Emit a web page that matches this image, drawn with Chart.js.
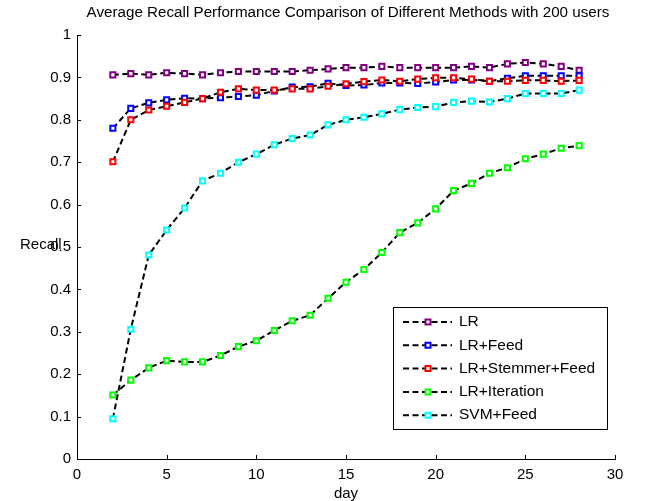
<!DOCTYPE html>
<html>
<head>
<meta charset="utf-8">
<script src="https://cdn.jsdelivr.net/npm/chart.js@4"></script>
<style>
  body { margin: 0; background: #fff; }
  #wrap { width: 662px; height: 501px; }
</style>
</head>
<body>
<div id="wrap"><canvas id="recallChart" width="662" height="501"></canvas></div>
<script>
  // data (day 2 .. 28)
  const days = [2, 3, 4, 5, 6, 7, 8, 9, 10, 11, 12, 13, 14, 15, 16, 17, 18, 19, 20, 21, 22, 23, 24, 25, 26, 27, 28];
  const lr = [0.906, 0.909, 0.906, 0.911, 0.909, 0.906, 0.911, 0.914, 0.914, 0.914, 0.914, 0.917, 0.920, 0.923, 0.923, 0.926, 0.923, 0.923, 0.923, 0.923, 0.926, 0.923, 0.932, 0.935, 0.932, 0.926, 0.917];
  const lrFeed = [0.780, 0.827, 0.840, 0.847, 0.851, 0.850, 0.852, 0.855, 0.858, 0.868, 0.877, 0.878, 0.886, 0.881, 0.882, 0.887, 0.887, 0.886, 0.889, 0.894, 0.894, 0.891, 0.898, 0.904, 0.904, 0.904, 0.904];
  const lrStemmerFeed = [0.701, 0.800, 0.823, 0.832, 0.841, 0.850, 0.865, 0.873, 0.870, 0.870, 0.873, 0.873, 0.879, 0.885, 0.890, 0.894, 0.891, 0.896, 0.899, 0.899, 0.896, 0.891, 0.891, 0.893, 0.893, 0.891, 0.893];
  const lrIteration = [0.151, 0.186, 0.215, 0.232, 0.229, 0.229, 0.244, 0.265, 0.279, 0.303, 0.326, 0.339, 0.379, 0.417, 0.447, 0.487, 0.534, 0.557, 0.590, 0.633, 0.650, 0.674, 0.687, 0.708, 0.719, 0.733, 0.739];
  const svmFeed = [0.095, 0.306, 0.481, 0.540, 0.592, 0.656, 0.674, 0.700, 0.719, 0.741, 0.756, 0.764, 0.788, 0.800, 0.806, 0.814, 0.824, 0.829, 0.831, 0.841, 0.844, 0.842, 0.850, 0.862, 0.862, 0.862, 0.870];

  const seriesNames = ["LR", "LR+Feed", "LR+Stemmer+Feed", "LR+Iteration", "SVM+Feed"];
  const seriesValues = [lr, lrFeed, lrStemmerFeed, lrIteration, svmFeed];
  const markerColors = ["#800080", "#0000ff", "#ff0000", "#00ff00", "#00ffff"];

  const FONT = "Liberation Sans, Arial, sans-serif";
  const DASH = [6, 3.5];

  function drawMarker(ctx, x, y, color) {
    ctx.save();
    ctx.setLineDash([]);
    ctx.lineWidth = 2;
    ctx.strokeStyle = color;
    ctx.fillStyle = "#fff";
    ctx.beginPath();
    ctx.rect(x - 2.5, y - 2.5, 5, 5);
    ctx.fill();
    ctx.stroke();
    ctx.restore();
  }

  // MATLAB-like extras: inward ticks, title, horizontal y label, boxed legend
  const matlabLook = {
    id: "matlabLook",
    afterDraw(chart) {
      const ctx = chart.ctx;
      const area = chart.chartArea;
      const xs = chart.scales.x, ys = chart.scales.y;

      ctx.save();
      ctx.strokeStyle = "#000";
      ctx.lineWidth = 1;
      ctx.beginPath();
      ys.ticks.forEach(t => {
        const py = Math.round(ys.getPixelForValue(t.value)) + 0.5;
        ctx.moveTo(area.left, py);
        ctx.lineTo(area.left + 4, py);
      });
      xs.ticks.forEach(t => {
        const px = Math.round(xs.getPixelForValue(t.value)) + 0.5;
        ctx.moveTo(px, area.bottom);
        ctx.lineTo(px, area.bottom - 4);
      });
      ctx.stroke();

      ctx.fillStyle = "#000";
      ctx.font = "15.2px " + FONT;
      ctx.textAlign = "center";
      ctx.textBaseline = "middle";
      ctx.fillText("Average Recall Performance Comparison of Different Methods with 200 users", (area.left + area.right) / 2 + 2, 13);

      ctx.font = "15px " + FONT;
      ctx.textAlign = "left";
      ctx.fillText("Recall", 20, 245);

      // legend
      const box = { x: 393.5, y: 307.5, w: 214, h: 122 };
      ctx.fillStyle = "#fff";
      ctx.fillRect(box.x, box.y, box.w, box.h);
      ctx.strokeRect(box.x, box.y, box.w, box.h);
      ctx.font = "15.5px " + FONT;
      seriesNames.forEach((name, i) => {
        const cy = 322 + i * 23.3;
        ctx.save();
        ctx.strokeStyle = "#000";
        ctx.lineWidth = 2;
        ctx.setLineDash(DASH);
        ctx.beginPath();
        ctx.moveTo(403, cy);
        ctx.lineTo(452, cy);
        ctx.stroke();
        ctx.restore();
        drawMarker(ctx, 428, cy, markerColors[i]);
        ctx.fillStyle = "#000";
        ctx.textAlign = "left";
        ctx.textBaseline = "middle";
        ctx.fillText(name, 459, cy);
      });
      ctx.restore();
    }
  };

  const datasets = seriesNames.map((name, i) => ({
    label: name,
    data: days.map((d, j) => ({ x: d, y: seriesValues[i][j] })),
    borderColor: "#000",
    borderWidth: 2,
    borderDash: DASH,
    pointStyle: "rect",
    pointRadius: 3.6,
    pointBorderWidth: 2,
    pointBorderColor: markerColors[i],
    pointBackgroundColor: "#fff",
    tension: 0,
    fill: false,
    order: seriesNames.length - i
  }));

  const config = {
    type: "line",
    data: { datasets: datasets },
    options: {
      responsive: false,
      animation: false,
      layout: { padding: { top: 35, right: 47, left: 0, bottom: 0 } },
      plugins: {
        legend: { display: false },
        tooltip: { enabled: false }
      },
      scales: {
        x: {
          type: "linear",
          min: 0,
          max: 30,
          afterFit: s => { s.height = 42; },
          grid: { display: false, drawTicks: false },
          border: { display: true, color: "#000", width: 1 },
          ticks: { stepSize: 5, padding: 7, color: "#000", font: { family: FONT, size: 15 } },
          title: { display: true, text: "day", color: "#000", font: { family: FONT, size: 15 }, padding: { top: 0, bottom: -2 } }
        },
        y: {
          min: 0,
          max: 1,
          afterFit: s => { s.width = 77; },
          grid: { display: false, drawTicks: false },
          border: { display: true, color: "#000", width: 1 },
          ticks: {
            stepSize: 0.1,
            padding: 6,
            color: "#000",
            font: { family: FONT, size: 15 },
            callback: v => String(+v.toFixed(1))
          }
        }
      }
    },
    plugins: [matlabLook]
  };

  var recallChart = new Chart(document.getElementById("recallChart"), config);
</script>
</body>
</html>
